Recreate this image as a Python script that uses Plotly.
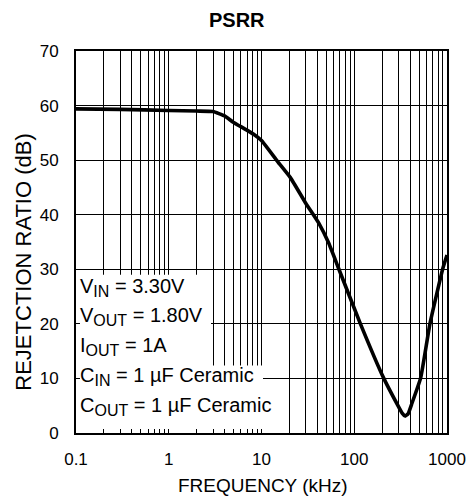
import plotly.graph_objects as go

# ---- data ----
freq_khz = [0.1, 0.3, 1, 2, 3, 4, 4.9, 6.8, 8.3, 10, 15, 20.5, 30, 41.6, 53,
            68, 116, 207, 290, 330, 353, 380, 420, 520, 656, 900, 1000]
psrr_db = [59.4, 59.3, 59.1, 59.0, 58.9, 58.1, 57.0, 55.6, 54.7, 53.6, 49.7,
           46.8, 42.1, 38.4, 34.8, 30.1, 20.1, 10.1, 5.3, 3.6, 3.1, 3.5, 5.5,
           10.1, 20.1, 30.1, 32.6]

x_tick_vals = [0.1, 1, 10, 100, 1000]
x_tick_text = ["0.1", "1", "10", "100", "1000"]
y_tick_vals = [0, 10, 20, 30, 40, 50, 60, 70]

title_text = "<b>PSRR</b>"
x_title = "FREQUENCY (kHz)"
y_title = "REJETCTION RATIO (dB)"
SUB = '<sub><span style="font-size:16px">{}</span></sub>'
conditions = [
    "V" + SUB.format("IN") + " = 3.30V",
    "V" + SUB.format("OUT") + " = 1.80V",
    "I" + SUB.format("OUT") + " = 1A",
    "C" + SUB.format("IN") + " = 1 µF Ceramic",
    "C" + SUB.format("OUT") + " = 1 µF Ceramic",
]

# ---- layout geometry (screen pixels; the page body adds an 8 px margin) ----
BODY = 8
SW, SH = 474, 502
W, H = SW - BODY, SH - BODY
PLOT_L, PLOT_R, PLOT_T, PLOT_B = 76, 447, 51, 433.5   # plot box on screen
ML, MT = PLOT_L - BODY, PLOT_T - BODY
PW, PH = PLOT_R - PLOT_L, PLOT_B - PLOT_T
MR, MB = W - ML - PW, H - MT - PH


def sx(px):
    return (px - PLOT_L) / PW


def sy(py):
    return (PLOT_B - py) / PH


FONT = "Liberation Sans, Arial, sans-serif"

minor_vals = [m * 10 ** e for e in range(-1, 3) for m in range(2, 10)]

fig = go.Figure()
fig.add_trace(go.Scatter(
    x=freq_khz, y=psrr_db, mode="lines",
    line=dict(color="black", width=3.6, shape="spline", smoothing=0.4),
    showlegend=False, hoverinfo="skip",
))

# white masks behind the condition text; leave 4 px uncovered next to the
# left and bottom axes so the grid lines show there as short tick stubs
STUB = 4
mask_boxes = [
    (PLOT_L + STUB, 275, 211, PLOT_B - STUB),
    (PLOT_L + STUB, 366, 263, PLOT_B - STUB),
    (PLOT_L + STUB, 397, 281, PLOT_B - STUB),
]
for x0, y0, x1, y1 in mask_boxes:
    fig.add_shape(type="rect", xref="paper", yref="paper",
                  x0=sx(x0), x1=sx(x1), y0=sy(y1), y1=sy(y0),
                  fillcolor="white", line=dict(width=0), layer="above")

row_centers = [288, 317, 347, 377, 407]
for txt, yc in zip(conditions, row_centers):
    fig.add_annotation(
        text=txt, xref="paper", yref="paper",
        x=sx(78), y=sy(yc),
        xanchor="left", yanchor="middle", showarrow=False,
        font=dict(family=FONT, size=20, color="black"),
    )

# title and axis titles placed as text at their screen spots
fig.add_annotation(text=title_text, xref="paper", yref="paper",
                   x=sx(SW / 2), y=sy(20),
                   xanchor="center", yanchor="middle", showarrow=False,
                   font=dict(family=FONT, size=20, color="black"))
fig.add_annotation(text=x_title, xref="paper", yref="paper",
                   x=sx(263), y=sy(486),
                   xanchor="center", yanchor="middle", showarrow=False,
                   font=dict(family=FONT, size=19, color="black"))
fig.add_annotation(text=y_title, xref="paper", yref="paper",
                   x=sx(24), y=sy(262),
                   xanchor="center", yanchor="middle", showarrow=False,
                   textangle=-90,
                   font=dict(family=FONT, size=22, color="black"))

fig.update_layout(
    width=W, height=H,
    margin=dict(l=ML, r=MR, t=MT, b=MB, autoexpand=False),
    paper_bgcolor="white", plot_bgcolor="white",
    font=dict(family=FONT, size=17, color="black"),
)

fig.update_xaxes(
    type="log", range=[-1, 3], automargin=False,
    tickmode="array", tickvals=x_tick_vals, ticktext=x_tick_text,
    showgrid=True, gridcolor="black", gridwidth=1.4,
    ticks="", showline=True, linecolor="black", linewidth=2, mirror=True,
    zeroline=False,
    minor=dict(tickmode="array", tickvals=minor_vals, showgrid=True,
               gridcolor="black", gridwidth=1.4, ticks=""),
    tickfont=dict(family=FONT, size=17),
    ticklabelstandoff=10,
)
fig.update_yaxes(
    range=[0, 70], automargin=False, tickmode="array", tickvals=y_tick_vals,
    showgrid=True, gridcolor="black", gridwidth=1.4,
    ticks="", showline=True, linecolor="black", linewidth=2, mirror=True,
    zeroline=False,
    tickfont=dict(family=FONT, size=17),
    ticklabelstandoff=12,
)

fig.write_html("out.html")
